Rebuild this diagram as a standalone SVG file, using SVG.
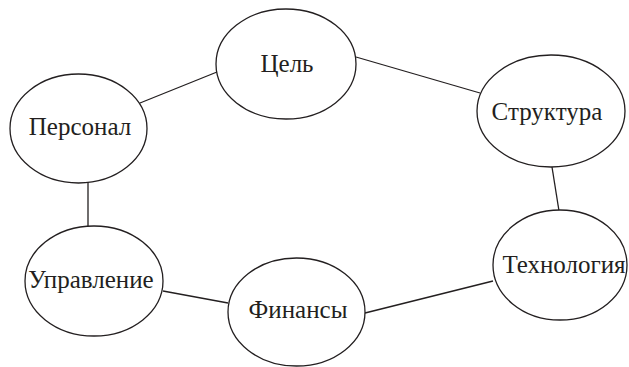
<svg xmlns="http://www.w3.org/2000/svg" width="629" height="367" viewBox="0 0 629 367">
<style>
.n ellipse{fill:#fff;stroke:#231f20;stroke-width:1.3}
.n text{font-family:"Liberation Serif","Times New Roman",serif;font-size:25px;fill:#231f20;text-anchor:middle}
#edges line{stroke:#231f20;stroke-width:1.3}
</style>
<rect width="629" height="367" fill="#fff"/>
<g id="edges">
<line x1="140" y1="103" x2="217" y2="72"/>
<line x1="356" y1="57" x2="480" y2="93"/>
<line x1="552" y1="167" x2="559" y2="211"/>
<line x1="88" y1="177" x2="88" y2="226"/>
<line x1="163" y1="291" x2="228" y2="303"/>
<line x1="365" y1="313" x2="493" y2="281"/>
</g>
<g id="tsel" class="n"><ellipse cx="286" cy="64" rx="70" ry="55"/><text x="287" y="72">Цель</text></g>
<g id="struktura" class="n"><ellipse cx="551" cy="111" rx="74" ry="56"/><text x="547" y="120">Структура</text></g>
<g id="personal" class="n"><ellipse cx="78.5" cy="128.5" rx="68.5" ry="54.5"/><text x="80" y="135">Персонал</text></g>
<g id="upravlenie" class="n"><ellipse cx="94" cy="281" rx="69" ry="55"/><text x="91" y="288">Управление</text></g>
<g id="finansy" class="n"><ellipse cx="296.5" cy="312" rx="68.5" ry="54"/><text x="298" y="318">Финансы</text></g>
<g id="tekhnologiya" class="n"><ellipse cx="560" cy="265" rx="67" ry="55"/><text x="564" y="273">Технология</text></g>
</svg>
